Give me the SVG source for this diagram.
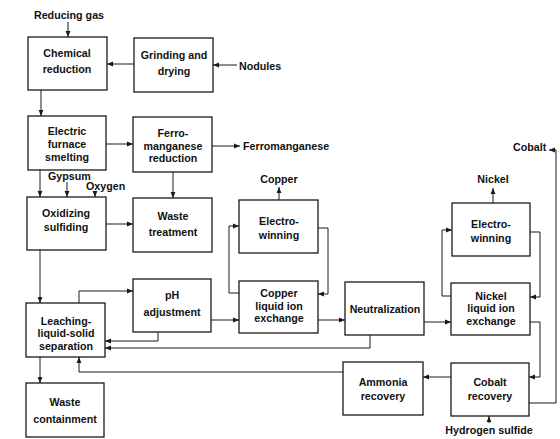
<svg xmlns="http://www.w3.org/2000/svg" width="560" height="439" viewBox="0 0 560 439">
<defs>
<marker id="ah" viewBox="0 0 6 6" markerWidth="6" markerHeight="6" refX="6" refY="3" orient="auto" markerUnits="userSpaceOnUse">
<path d="M0,0.6 L6,3 L0,5.4 z" fill="#1a1a1a"/>
</marker>
</defs>
<style>
rect{fill:#fff;stroke:#1a1a1a;stroke-width:1.3}
text{font-family:"Liberation Sans",Arial,sans-serif;font-weight:bold;font-size:10.7px;fill:#111;text-anchor:middle}
text.l{text-anchor:start}
.c path{fill:none;stroke:#1a1a1a;stroke-width:1;marker-end:url(#ah)}
</style>
<rect x="0" y="0" width="560" height="439" style="fill:#fff;stroke:none"/>
<g class="c" id="connectors">
<path d="M68,22 V37"/>
<path d="M237,65 H213"/>
<path d="M134,64 H107"/>
<path d="M41,90 V116"/>
<path d="M106,144 H133"/>
<path d="M212,146 H240"/>
<path d="M173,172 V198"/>
<path d="M40,170 V197"/>
<path d="M67,182 V197"/>
<path d="M95,191 V197"/>
<path d="M106,224 H133"/>
<path d="M40,250 V303"/>
<path d="M79,303 V291 H133"/>
<path d="M158,332 V341 H105"/>
<path d="M211,320 H239"/>
<path d="M239,293 H229 V226 H239"/>
<path d="M318,228 H328 V294 H318"/>
<path d="M279,200 V187"/>
<path d="M318,320 H345"/>
<path d="M424,322 H451"/>
<path d="M370,335 V348 H105"/>
<path d="M451,296 H442 V230 H452"/>
<path d="M530,232 H540 V297 H530"/>
<path d="M493,203 V188"/>
<path d="M530,322 H540 V377 H529"/>
<path d="M529,403 H556 V150 H549"/>
<path d="M489,423 V416"/>
<path d="M451,377 H423"/>
<path d="M343,372 H79 V357"/>
<path d="M40,357 V383"/>
</g>
<g id="labels">
<text x="69" y="19">Reducing gas</text>
<text class="l" x="239" y="70">Nodules</text>
<text class="l" x="243" y="150">Ferromanganese</text>
<text class="l" x="48" y="180">Gypsum</text>
<text class="l" x="86" y="190">Oxygen</text>
<text x="279" y="183">Copper</text>
<text x="493" y="183">Nickel</text>
<text class="l" x="513" y="151">Cobalt</text>
<text x="489" y="434">Hydrogen sulfide</text>
</g>
<g id="chemical-reduction"><rect x="28" y="37" width="79" height="53"/><text x="67" y="57">Chemical</text><text x="67" y="73">reduction</text></g>
<g id="grinding-drying"><rect x="134" y="38" width="79" height="54"/><text x="174" y="59">Grinding and</text><text x="174" y="75">drying</text></g>
<g id="electric-furnace"><rect x="28" y="116" width="78" height="54"/><text x="67" y="135">Electric</text><text x="67" y="148">furnace</text><text x="67" y="161">smelting</text></g>
<g id="ferromanganese-reduction"><rect x="133" y="117" width="79" height="55"/><text x="173" y="137">Ferro-</text><text x="173" y="150">manganese</text><text x="173" y="162">reduction</text></g>
<g id="oxidizing-sulfiding"><rect x="27" y="197" width="79" height="53"/><text x="66" y="217">Oxidizing</text><text x="66" y="231">sulfiding</text></g>
<g id="waste-treatment"><rect x="133" y="198" width="79" height="54"/><text x="173" y="220">Waste</text><text x="173" y="236">treatment</text></g>
<g id="copper-electrowinning"><rect x="239" y="200" width="79" height="53"/><text x="279" y="225">Electro-</text><text x="279" y="239">winning</text></g>
<g id="copper-lix"><rect x="239" y="281" width="79" height="52"/><text x="279" y="297">Copper</text><text x="279" y="310">liquid ion</text><text x="279" y="322">exchange</text></g>
<g id="ph-adjustment"><rect x="133" y="279" width="78" height="53"/><text x="172" y="299">pH</text><text x="172" y="316">adjustment</text></g>
<g id="leaching"><rect x="26" y="303" width="79" height="54"/><text x="66" y="325">Leaching-</text><text x="66" y="337">liquid-solid</text><text x="66" y="350">separation</text></g>
<g id="waste-containment"><rect x="26" y="383" width="78" height="54"/><text x="65" y="406">Waste</text><text x="65" y="423">containment</text></g>
<g id="neutralization"><rect x="345" y="282" width="79" height="53"/><text x="385" y="313">Neutralization</text></g>
<g id="nickel-electrowinning"><rect x="452" y="203" width="78" height="53"/><text x="491" y="228">Electro-</text><text x="491" y="242">winning</text></g>
<g id="nickel-lix"><rect x="451" y="283" width="79" height="52"/><text x="491" y="300">Nickel</text><text x="491" y="312">liquid ion</text><text x="491" y="325">exchange</text></g>
<g id="cobalt-recovery"><rect x="451" y="363" width="78" height="53"/><text x="490" y="386">Cobalt</text><text x="490" y="400">recovery</text></g>
<g id="ammonia-recovery"><rect x="343" y="362" width="80" height="53"/><text x="383" y="386">Ammonia</text><text x="383" y="400">recovery</text></g>
</svg>
